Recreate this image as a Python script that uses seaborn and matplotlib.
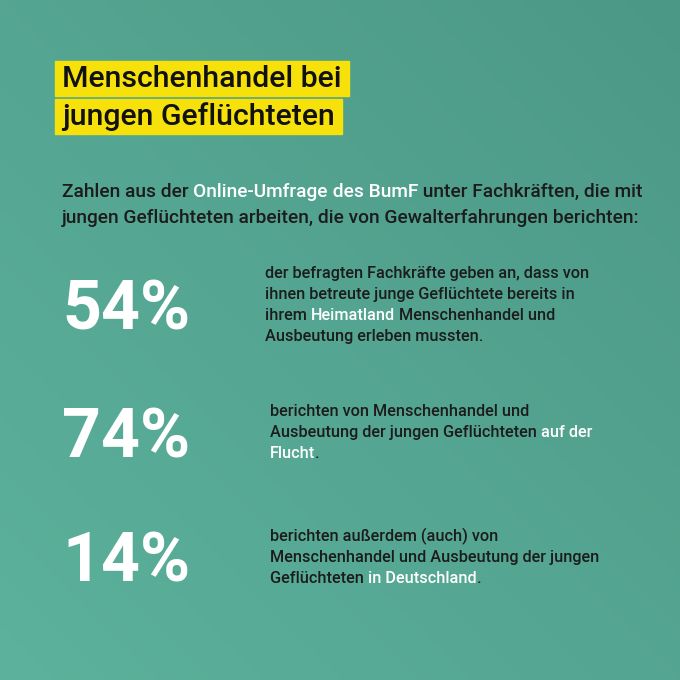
import numpy as np
import matplotlib.pyplot as plt
import seaborn as sns

sns.set_theme(style="white")
plt.rcParams['font.family'] = ['Roboto', 'DejaVu Sans']

TITLE_LINES = ["Menschenhandel bei", "jungen Geflüchteten"]
INTRO = [
    [("Zahlen aus der ", "d"), ("Online-Umfrage", "w"), (" des BumF", "w"), (" unter Fachkräften, die mit", "d")],
    [("jungen Geflüchteten arbeiten, die von Gewalterfahrungen berichten:", "d")],
]
PERCENTS = [54, 74, 14]
PCT_Y = [308, 435, 560]
DESCRIPTIONS = [
    [[("der befragten Fachkräfte geben an, dass von", "d")],
     [("ihnen betreute junge Geflüchtete bereits in", "d")],
     [("ihrem ", "d"), ("Heimatland", "w"), (" Menschenhandel und", "d")],
     [("Ausbeutung erleben mussten.", "d")]],
    [[("berichten von Menschenhandel und", "d")],
     [("Ausbeutung der jungen Geflüchteten ", "d"), ("auf der", "w")],
     [("Flucht", "w"), (".", "d")]],
    [[("berichten außerdem (auch) von", "d")],
     [("Menschenhandel und Ausbeutung der jungen", "d")],
     [("Geflüchteten ", "d"), ("in Deutschland", "w"), (".", "d")]],
]
DESC_X = [265, 270, 270]
DESC_Y0 = [272, 410, 535]
COLORS = {"d": "#1c1c1c", "w": "#ffffff"}

fig = plt.figure(figsize=(6.8, 6.8), dpi=100)
ax = fig.add_axes([0, 0, 1, 1])
ax.set_xlim(0, 680)
ax.set_ylim(680, 0)
ax.axis("off")

# background gradient
yy, xx = np.mgrid[0:1:200j, 0:1:200j]
t = (yy + (1 - xx)) / 2
c0 = np.array([0x4c, 0x98, 0x86]) / 255
c1 = np.array([0x5c, 0xb2, 0x9c]) / 255
img = c0[None, None, :] * (1 - t[..., None]) + c1[None, None, :] * t[..., None]
ax.imshow(img, extent=[0, 680, 680, 0], aspect="auto", zorder=0)

fig.canvas.draw()
renderer = fig.canvas.get_renderer()


def draw_line(x, y, parts, size, weight="medium"):
    for txt, col in parts:
        t = ax.text(x, y, txt, fontsize=size, color=COLORS[col], weight=weight,
                    va="baseline", ha="left", zorder=3)
        bb = t.get_window_extent(renderer)
        x += bb.width  # 1 px == 1 data unit here


# title boxes
for i, line in enumerate(TITLE_LINES):
    y = 87 + i * 38
    t = ax.text(62, y, line, fontsize=21.8, weight="medium", color="#111111",
                va="baseline", zorder=3)
    w = t.get_window_extent(renderer).width
    ax.add_patch(plt.Rectangle((55, y - 26), w + 14, 35, color="#f6e20a", zorder=2))

for i, parts in enumerate(INTRO):
    draw_line(62, 197 + i * 26, parts, 13.8)

for p, py, lines, dx, dy in zip(PERCENTS, PCT_Y, DESCRIPTIONS, DESC_X, DESC_Y0):
    ax.text(62, py + 22, f"{p}%", fontsize=49, weight="bold", color="white",
            va="baseline", zorder=3)
    for j, parts in enumerate(lines):
        draw_line(dx, dy + 6 + j * 21, parts, 11.7)

fig.savefig("out.png", dpi=100)
